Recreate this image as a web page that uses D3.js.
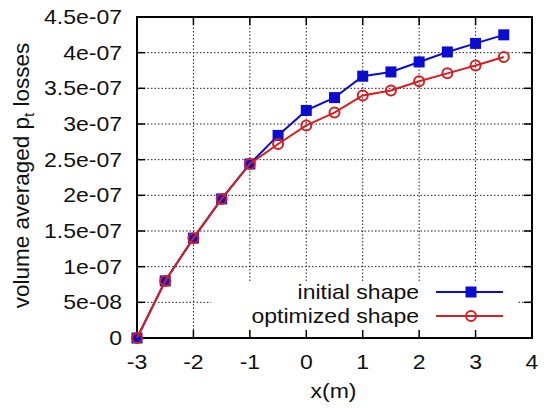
<!DOCTYPE html>
<html><head><meta charset="utf-8">
<script src="https://cdn.jsdelivr.net/npm/d3@7"></script>
<style>body{margin:0;background:#fff}svg{display:block}text{font-family:"Liberation Sans",Arial,sans-serif;fill:#111}</style>
</head><body><svg id="c" width="548" height="411"></svg>
<script>
const xs = [-3,-2.5,-2,-1.5,-1,-0.5,0,0.5,1,1.5,2,2.5,3,3.5];
const initialShape = [0,0.80e-7,1.40e-7,1.95e-7,2.44e-7,2.84e-7,3.19e-7,3.37e-7,3.67e-7,3.73e-7,3.87e-7,4.01e-7,4.13e-7,4.25e-7];
const optimizedShape = [0,0.80e-7,1.40e-7,1.95e-7,2.44e-7,2.72e-7,2.98e-7,3.16e-7,3.40e-7,3.47e-7,3.60e-7,3.71e-7,3.82e-7,3.94e-7];
const xTicks = [-3,-2,-1,0,1,2,3,4];
const yTicks = [0,5e-8,1e-7,1.5e-7,2e-7,2.5e-7,3e-7,3.5e-7,4e-7,4.5e-7];
const yTickLabels = ["0","5e-08","1e-07","1.5e-07","2e-07","2.5e-07","3e-07","3.5e-07","4e-07","4.5e-07"];
const seriesNames = ["initial shape","optimized shape"];

const L=137,R=532,T=17,B=338;
const svg=d3.select("#c");
const x=d3.scaleLinear().domain([-3,4]).range([L,R]);
const y=d3.scaleLinear().domain([0,4.5e-7]).range([B,T]);
const fs=20, sx=1.15;
const place=(px,py)=>`translate(${px},${py}) scale(${sx},1)`;

// grid
const g=svg.append("g");
g.selectAll("line.gy").data(yTicks.slice(1,-1)).join("line")
 .attr("x1",L).attr("x2",R).attr("y1",d=>y(d)).attr("y2",d=>y(d))
 .attr("stroke","#222").attr("stroke-width",1).attr("stroke-dasharray","1.5,2");
g.selectAll("line.gx").data(xTicks.slice(1,-1)).join("line")
 .attr("x1",d=>x(d)).attr("x2",d=>x(d)).attr("y1",T).attr("y2",B)
 .attr("stroke","#222").attr("stroke-width",1).attr("stroke-dasharray","1.5,2");
// opaque key area
svg.append("rect").attr("x",211).attr("y",281).attr("width",307).attr("height",B-281).attr("fill","#fff");

// ticks inward
const tk=8;
const ax=svg.append("g").attr("stroke","#000").attr("stroke-width",1.5);
xTicks.forEach(t=>{
  ax.append("line").attr("x1",x(t)).attr("x2",x(t)).attr("y1",B).attr("y2",B-tk);
  ax.append("line").attr("x1",x(t)).attr("x2",x(t)).attr("y1",T).attr("y2",T+tk);
});
yTicks.forEach(t=>{
  ax.append("line").attr("x1",L).attr("x2",L+tk).attr("y1",y(t)).attr("y2",y(t));
  ax.append("line").attr("x1",R).attr("x2",R-tk).attr("y1",y(t)).attr("y2",y(t));
});
svg.append("rect").attr("x",L).attr("y",T).attr("width",R-L).attr("height",B-T)
 .attr("fill","none").attr("stroke","#000").attr("stroke-width",2);

// tick labels
svg.selectAll("text.xt").data(xTicks).join("text")
 .attr("transform",d=>place(x(d),B+31)).attr("text-anchor","middle").attr("font-size",fs).text(d=>d);
svg.selectAll("text.yt").data(yTicks).join("text")
 .attr("transform",d=>place(L-15,y(d)+7)).attr("text-anchor","end").attr("font-size",fs).text((d,i)=>yTickLabels[i]);

// axis titles
svg.append("text").attr("transform",place((L+R)/2-1,398)).attr("text-anchor","middle").attr("font-size",fs).text("x(m)");
const yl=svg.append("text").attr("transform",`translate(29,${(T+B)/2-2}) rotate(-90)`).attr("text-anchor","middle").attr("font-size",22.5);
yl.append("tspan").text("volume averaged p");
yl.append("tspan").attr("font-size",15).attr("dy",5).text("t");
yl.append("tspan").attr("dy",-5).text(" losses");

const colors=["#0c0cd0","#d42020"];
const line=d3.line().x((d,i)=>x(xs[i])).y(d=>y(d));
[initialShape,optimizedShape].forEach((s,k)=>{
  svg.append("path").datum(s).attr("d",line).attr("fill","none").attr("stroke",colors[k]).attr("stroke-width",2);
  if(k===0){
    svg.selectAll("rect.m0").data(s).join("rect").attr("x",(d,i)=>x(xs[i])-5.5).attr("y",d=>y(d)-5.5)
      .attr("width",11).attr("height",11).attr("fill",colors[0]);
  } else {
    svg.selectAll("circle.m1").data(s).join("circle").attr("cx",(d,i)=>x(xs[i])).attr("cy",d=>y(d))
      .attr("r",5).attr("fill","none").attr("stroke",colors[1]).attr("stroke-width",2);
  }
});

// legend
const ly=[292,316];
seriesNames.forEach((n,k)=>{
  svg.append("text").attr("transform",place(419,ly[k]+7)).attr("text-anchor","end").attr("font-size",fs).text(n);
  svg.append("line").attr("x1",436).attr("x2",503).attr("y1",ly[k]).attr("y2",ly[k]).attr("stroke",colors[k]).attr("stroke-width",2);
  if(k===0) svg.append("rect").attr("x",465.5).attr("y",ly[k]-5.5).attr("width",11).attr("height",11).attr("fill",colors[0]);
  else svg.append("circle").attr("cx",471).attr("cy",ly[k]).attr("r",5).attr("fill","none").attr("stroke",colors[1]).attr("stroke-width",2);
});
</script></body></html>
